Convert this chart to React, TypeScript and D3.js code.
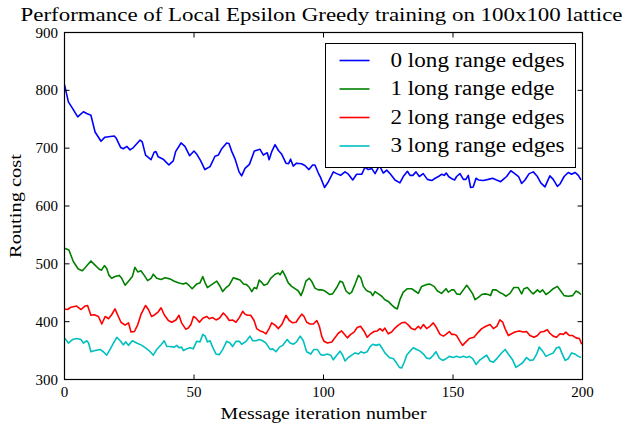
import React from "react";
import * as d3 from "d3";

const title = "Performance of Local Epsilon Greedy training on 100x100 lattice";
const xLabel = "Message iteration number";
const yLabel = "Routing cost";
const xTicks = [0, 50, 100, 150, 200];
const yTicks = [300, 400, 500, 600, 700, 800, 900];
const seriesNames = ["0 long range edges", "1 long range edge", "2 long range edges", "3 long range edges"];
const seriesColors = ["#0000ff", "#008000", "#ff0000", "#00bfbf"];

const edges0: [number, number][] = [[0,810],[1.5,780],[2.8,771],[5.1,754],[7.3,763],[8.6,760],[10.2,757],[11.8,728],[14.1,712],[15.6,719],[19.2,721],[20,717],[21.7,701],[22.7,699],[24.1,703],[25.3,697],[26.6,701],[29.2,714],[30,711],[31.3,688],[33.4,680],[34.6,693],[35.3,694],[36.2,685],[38.1,681],[40.3,671],[42,678],[42.9,694],[45,709],[46.5,703],[48.3,687],[50,695],[51,690],[52.6,678],[54.2,663],[56.2,668],[58.1,686],[59.4,688],[60.7,699],[62.6,709],[63.5,708],[64.6,694],[65.8,682],[67.4,659],[68.4,652],[69.7,665],[71.4,672],[73.3,695],[75.5,698],[76.8,688],[77.4,690],[78.3,692],[79,680],[80.1,695],[81.3,706],[82.6,696],[83.8,690],[85.5,674],[86.5,673],[87.3,681],[88.3,669],[89.6,674],[91.5,673],[92.8,670],[94.4,663],[95.8,671],[96.7,671],[98,657],[98.9,649],[100.4,632],[101.9,642],[103.8,659],[105.1,656],[106.6,653],[108.3,659],[109.6,655],[111.3,645],[112.8,655],[114.8,655],[116,667],[117.3,663],[118.6,665],[119.9,656],[121.2,667],[121.8,668],[123.1,657],[124.4,662],[125.9,655],[127.6,645],[129.5,640],[130.8,651],[132.4,660],[133.4,653],[134.5,653],[135.7,659],[137,651],[138.5,656],[140.1,646],[141.8,644],[143.1,648],[144.4,651],[145.7,655],[146.6,653],[147.4,657],[148.3,651],[149.6,647],[150.6,645],[151.4,651],[152.7,656],[154,646],[155,646],[155.9,653],[156.8,632],[157.8,633],[158.9,648],[159.8,645],[161.7,644],[163.6,646],[165.3,648],[166.8,645],[168.4,642],[169.4,646],[170.7,651],[172.3,661],[173.6,657],[175.3,651],[176.5,639],[177.8,645],[179.4,656],[181,659],[182.6,651],[183.9,640],[185.5,633],[186.8,646],[187.4,652],[188.7,646],[190.3,634],[191.3,638],[192.9,651],[194.5,658],[195.8,655],[197.1,658],[198.4,653],[199.4,645]];

const edges1: [number, number][] = [[0,527],[1.7,524],[3.4,504],[5.3,491],[6.9,488],[8.1,494],[10.2,505],[11.5,499],[13.3,491],[14.3,489],[15.4,497],[16.3,492],[17.2,480],[18.2,475],[19.5,478],[21.1,480],[22.1,475],[23.4,463],[24.7,470],[26.2,478],[27.2,494],[28.3,486],[29.5,488],[30.8,480],[32.1,471],[33.4,475],[34.3,482],[35.6,475],[37.3,473],[38.8,476],[40.7,474],[42.4,470],[44.2,467],[45.9,465],[46.9,467],[48,463],[49.3,457],[51,465],[52.3,467],[53.4,478],[54.3,467],[55.2,459],[56.8,464],[58.8,470],[59.8,463],[61.1,452],[62.4,459],[63.6,463],[65.2,476],[66.5,474],[67.8,472],[69.1,465],[70.3,464],[71.4,459],[72.3,452],[73.3,459],[74.2,457],[75.2,472],[76.1,468],[77,463],[78.3,465],[79.6,475],[81.3,482],[82.6,484],[83.2,481],[84.2,488],[85.1,480],[86.4,467],[87.7,461],[89,457],[90.3,453],[91.3,445],[92.2,455],[93.2,470],[94.5,475],[95.4,470],[96.7,458],[98,455],[99.3,455],[100.6,453],[102.3,447],[103.5,448],[105.1,459],[106.4,470],[107.4,468],[108.7,453],[110,448],[110.9,451],[112.2,465],[113.5,480],[114.4,476],[115.4,461],[116.4,455],[117.3,452],[118.2,451],[119,445],[119.9,452],[121.2,448],[122.5,444],[123.7,438],[125,435],[126.3,429],[127.6,424],[128.5,422],[129.5,438],[130.8,451],[132.4,457],[134,457],[135.3,453],[136.6,449],[137.9,461],[139.6,464],[141.1,465],[142.7,461],[144,453],[145.6,449],[147.3,457],[148.2,451],[149.5,455],[150.4,455],[151.4,448],[152.7,447],[154,455],[155.3,463],[156.3,457],[157.6,448],[158.5,438],[159.8,442],[161.1,447],[162.4,448],[163.6,447],[164.5,445],[165.3,455],[166.6,455],[167.9,451],[169.2,448],[170.5,444],[172,449],[173.5,459],[175.2,459],[176.5,448],[177.4,457],[178.7,459],[180,452],[181,448],[182.6,455],[183.6,451],[184.6,455],[185.9,447],[187.2,451],[188.7,457],[190.3,461],[191.6,453],[192.9,445],[194.5,444],[196.2,445],[197.5,453],[198.4,451],[199.4,447]];

const edges2: [number, number][] = [[0,422],[1.2,421],[2.5,425],[4.7,427],[6.4,421],[7.9,427],[8.9,428],[10.2,411],[11.5,412],[13.1,409],[14.4,396],[15.7,409],[17,405],[18.2,412],[19.5,422],[20.5,412],[21.8,399],[23.4,394],[24.7,398],[25.7,382],[27,383],[28.3,395],[29.5,412],[31.3,428],[32.4,421],[33.6,409],[34.9,412],[36.2,417],[37.3,424],[38.5,412],[40.1,402],[41.4,399],[43,403],[44.2,411],[45.2,398],[46.8,387],[47.8,389],[48.8,395],[49.8,409],[50.8,406],[52.1,399],[53.4,406],[54.9,409],[55.9,405],[57.2,407],[58.5,403],[59.8,406],[61.3,415],[62.6,409],[63.6,402],[64.9,403],[66.2,399],[67.5,407],[68.8,418],[69.7,413],[70.6,411],[71.9,411],[73.2,402],[74.2,388],[75.5,384],[76.8,382],[77.8,379],[79.1,389],[80,398],[81.3,394],[82.6,388],[83.9,395],[85.5,411],[86.8,402],[88.1,398],[89.4,399],[90.3,405],[91.6,413],[92.5,409],[93.5,399],[94.8,396],[96.1,396],[97.4,402],[98.4,392],[99.3,375],[100.2,366],[101.5,363],[103.2,365],[104.4,372],[105.7,380],[107,384],[107.9,379],[109.2,372],[110.5,378],[111.8,382],[113,390],[114.3,392],[115.6,384],[116.9,373],[118.2,379],[119.5,383],[120.8,384],[121.8,388],[122.8,384],[123.7,389],[125,379],[126.3,382],[127.6,389],[128.9,394],[130.2,398],[131.5,399],[132.8,394],[134,388],[135.3,386],[136.6,392],[137.5,388],[138.6,395],[139.8,388],[141.1,392],[142.4,398],[143.7,389],[145,378],[146.3,375],[147.3,378],[148.6,383],[149.5,378],[150.5,378],[151.4,376],[152.7,366],[153.7,359],[155,365],[156.3,371],[158.1,373],[159.8,382],[161.1,388],[162.7,392],[164.3,395],[165.6,388],[166.9,392],[168.1,403],[169.2,399],[170.1,388],[171.4,376],[172.6,379],[173.9,382],[175.6,384],[177.1,382],[178.4,383],[179.7,376],[181.3,373],[182.6,376],[183.8,382],[185.1,383],[186.4,386],[187.4,380],[188.7,375],[190,373],[191.3,379],[192.6,378],[193.6,382],[194.9,376],[196.2,376],[197.5,372],[198.8,371],[199.7,361]];

const edges3: [number, number][] = [[0,372],[1.5,363],[3.1,369],[4.7,371],[6.4,369],[7.3,363],[8.6,367],[9.3,363],[10.2,348],[11.8,350],[13.7,352],[15,348],[16.3,342],[17.6,352],[18.9,363],[20.2,373],[21.5,367],[22.7,360],[23.7,365],[24.7,359],[26.2,367],[27.9,363],[29.9,359],[31.8,353],[33.1,348],[34.3,342],[35.6,352],[37.3,360],[38.5,367],[39.5,357],[40.7,357],[42.4,356],[43.3,359],[44.2,355],[45.2,356],[45.9,350],[47.2,353],[48.5,355],[49.7,353],[51,366],[52.3,365],[53.4,378],[54.3,375],[55.2,365],[56.2,367],[57.2,356],[58.5,344],[59.8,343],[61.1,352],[62.6,366],[63.9,363],[64.9,357],[66.2,366],[67.5,366],[68.4,361],[70.1,366],[71.6,375],[72.7,367],[74,367],[75.2,369],[76.5,367],[77.8,363],[79.4,352],[80.4,353],[81.7,348],[83,356],[84.2,359],[86,369],[87.1,363],[88.4,361],[89.6,365],[91,375],[92.2,367],[93.5,348],[95.1,344],[96.3,352],[97.6,352],[98.9,343],[100,342],[101.5,344],[102.8,342],[103.8,334],[105.1,342],[106.4,349],[107.4,342],[108.3,332],[109.6,338],[110.9,342],[112.2,346],[113.5,344],[114.4,348],[115.6,346],[116.9,348],[118,357],[119,361],[120.3,359],[121.6,361],[122.5,355],[123.7,346],[125.4,338],[127,336],[128,330],[129.3,321],[130.2,320],[131.1,329],[132.1,342],[133.4,349],[134.7,355],[136,352],[137.3,349],[138.6,344],[139.8,337],[141.1,336],[142.4,342],[143.4,348],[144.7,337],[146,333],[147.3,336],[148.6,340],[150.1,338],[151.4,340],[152.7,338],[154,340],[155.3,338],[156.3,340],[157.6,336],[158.9,326],[160.2,333],[161.7,338],[163,342],[164.3,332],[165.6,330],[167.1,337],[168.4,344],[170.1,352],[171.7,342],[173,334],[174.3,321],[175.6,325],[176.9,329],[178.4,338],[179.7,333],[181,334],[182.3,344],[183.3,356],[184.6,349],[185.9,340],[187.2,343],[188.7,346],[190,355],[191.1,356],[192,346],[193.3,333],[194.5,336],[195.8,346],[197.1,344],[198.4,340],[199.4,338]];

const allSeries = [edges0, edges1, edges2, edges3];
const legendTextWidths = [174, 164, 174, 174];

const W = 628;
const H = 425;
const left = 64.5;
const right = 582.5;
const top = 32.5;
const bottom = 379.5;
const FONT = "'Liberation Serif', serif";

export default function App() {
  const x = d3.scaleLinear().domain([0, 200]).range([left, right]);
  const y = d3.scaleLinear().domain([300, 900]).range([bottom, top]);
  const line = d3
    .line<[number, number]>()
    .x((d) => x(d[0]))
    .y((d) => y(d[1]));
  const tickLen = 5;

  const legX = 325.5;
  const legY = 43.5;
  const legW = 250;
  const legH = 124;
  const rowGap = 28.5;

  return (
    <div style={{ position: "absolute", left: 0, top: 0 }}>
      <svg width={W} height={H} style={{ display: "block", background: "#fff" }}>
        <rect x={0} y={0} width={W} height={H} fill="#fff" />
        <text
          x={(left + right) / 2 - 2}
          y={21}
          textAnchor="middle"
          fontFamily={FONT}
          fontSize={18}
          textLength={602}
          lengthAdjust="spacingAndGlyphs"
        >
          {title}
        </text>
        <defs>
          <clipPath id="plotclip">
            <rect x={left} y={top} width={right - left} height={bottom - top} />
          </clipPath>
        </defs>
        <g clipPath="url(#plotclip)">
          {allSeries.map((s, i) => (
            <path
              key={i}
              d={line(s) || ""}
              fill="none"
              stroke={seriesColors[i]}
              strokeWidth={1.6}
              strokeLinejoin="round"
            />
          ))}
        </g>
        <rect x={left} y={top} width={right - left} height={bottom - top} fill="none" stroke="#000" strokeWidth={1.2} />
        {xTicks.map((t) => (
          <g key={"x" + t}>
            <line x1={x(t)} x2={x(t)} y1={bottom} y2={bottom - tickLen} stroke="#000" />
            <line x1={x(t)} x2={x(t)} y1={top} y2={top + tickLen} stroke="#000" />
            <text x={x(t)} y={397} textAnchor="middle" fontFamily={FONT} fontSize={15}>
              {t}
            </text>
          </g>
        ))}
        {yTicks.map((t) => (
          <g key={"y" + t}>
            <line x1={left} x2={left + tickLen} y1={y(t)} y2={y(t)} stroke="#000" />
            <line x1={right} x2={right - tickLen} y1={y(t)} y2={y(t)} stroke="#000" />
            <text x={58} y={y(t) + 5} textAnchor="end" fontFamily={FONT} fontSize={15}>
              {t}
            </text>
          </g>
        ))}
        <text
          x={(left + right) / 2}
          y={419}
          textAnchor="middle"
          fontFamily={FONT}
          fontSize={17}
          textLength={206}
          lengthAdjust="spacingAndGlyphs"
        >
          {xLabel}
        </text>
        <text
          transform={`translate(21,${(top + bottom) / 2}) rotate(-90)`}
          textAnchor="middle"
          fontFamily={FONT}
          fontSize={17}
          textLength={104}
          lengthAdjust="spacingAndGlyphs"
        >
          {yLabel}
        </text>
        <rect x={legX} y={legY} width={legW} height={legH} fill="#fff" stroke="#000" strokeWidth={1} />
        {seriesNames.map((n, i) => (
          <g key={n}>
            <line
              x1={legX + 14}
              x2={legX + 44}
              y1={legY + 17 + i * rowGap}
              y2={legY + 17 + i * rowGap}
              stroke={seriesColors[i]}
              strokeWidth={1.6}
            />
            <text
              x={legX + 65}
              y={legY + 23 + i * rowGap}
              fontFamily={FONT}
              fontSize={20}
              textLength={legendTextWidths[i]}
              lengthAdjust="spacingAndGlyphs"
            >
              {n}
            </text>
          </g>
        ))}
      </svg>
    </div>
  );
}
